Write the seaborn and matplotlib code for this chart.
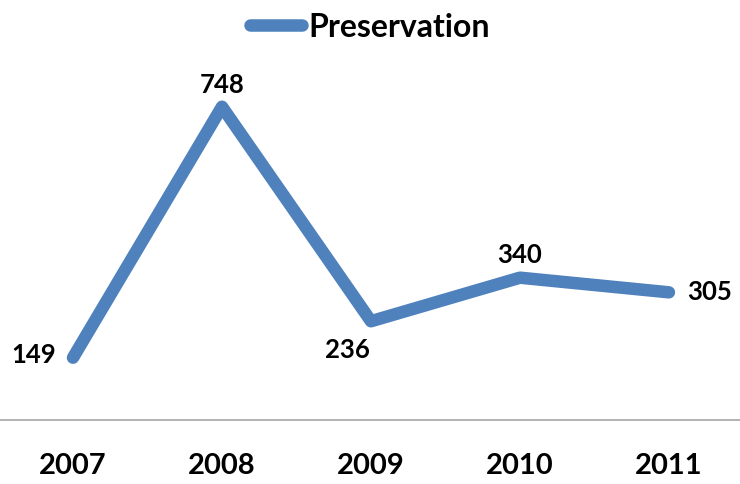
import matplotlib
matplotlib.use("Agg")
import matplotlib.pyplot as plt
import seaborn as sns
import pandas as pd
from matplotlib.lines import Line2D

years = ["2007", "2008", "2009", "2010", "2011"]
values = [149, 748, 236, 340, 305]
series_name = "Preservation"

sns.set_theme(style="white")
plt.rcParams['font.family'] = ['Lato', 'DejaVu Sans']
plt.rcParams['text.color'] = 'black'
plt.rcParams['xtick.color'] = 'black'

df = pd.DataFrame({"year": years, "value": values, "series": series_name})

fig = plt.figure(figsize=(7.4, 4.84), dpi=100)
ax = fig.add_axes([0, 0.132, 1, 0.779])
color = "#4F81BD"
sns.lineplot(data=df, x="year", y="value", hue="series", palette=[color],
             linewidth=9, ax=ax, sort=False, legend=False)
ax.lines[0].set_solid_capstyle("round")
ax.lines[0].set_solid_joinstyle("round")

ax.set_xlim(-0.49, 4.477)
ax.set_ylim(0, 900)
ax.set_xlabel("")
ax.set_ylabel("")
ax.set_yticks([])
ax.set_xticks(range(len(years)))
ax.set_xticklabels(years, fontsize=21, fontweight="bold", color="black")
ax.tick_params(axis="x", length=0, pad=24)
for s in ["top", "left", "right"]:
    ax.spines[s].set_visible(False)
ax.spines["bottom"].set_color("#A6A6A6")
ax.spines["bottom"].set_linewidth(1.2)

# data labels: (dx, dy in points, ha, va)
placements = [(-12, 2, "right", "center"),
              (0, 7, "center", "bottom"),
              (-17, -12, "center", "top"),
              (0, 8, "center", "bottom"),
              (13, 0, "left", "center")]
for i, v in enumerate(values):
    dx, dy, ha, va = placements[i]
    ax.annotate(str(v), (i, v), xytext=(dx, dy), textcoords="offset points",
                ha=ha, va=va, fontsize=18.5, fontweight="bold", color="black")

handle = Line2D([0], [0], color=color, linewidth=9, solid_capstyle="round")
fig.legend([handle], [series_name], loc="center", bbox_to_anchor=(0.5, 0.944),
           frameon=False, prop={"size": 23, "weight": "bold"},
           handlelength=1.6, handletextpad=0.2, labelcolor="black")

fig.savefig("out.png", dpi=100)
